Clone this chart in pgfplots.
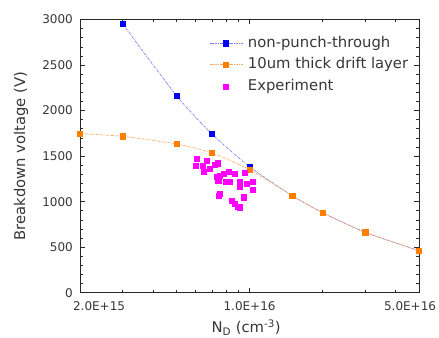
\documentclass[border=0pt]{standalone}
\usepackage{fontspec}
\setmainfont{DejaVu Sans}
\usepackage{pgfplots}
\usepackage{pgfplotstable}
\pgfplotsset{compat=1.18}

\definecolor{npt}{RGB}{0,0,240}
\definecolor{nptline}{RGB}{125,125,250}
\definecolor{drift}{RGB}{255,128,0}
\definecolor{driftline}{RGB}{255,170,100}
\definecolor{expt}{RGB}{255,0,255}
\definecolor{txt}{RGB}{55,55,55}
\definecolor{frame}{RGB}{40,40,40}

% Simulated breakdown voltage, non-punch-through design
\pgfplotstableread{
nd      vb
3e15    2950
5e15    2163
7e15    1743
1e16    1384
1.5e16  1065
2e16    879
3e16    663
5e16    461
}\nptdata

% Simulated breakdown voltage, 10 um thick drift layer
\pgfplotstableread{
nd      vb
2e15    1746
3e15    1717
5e15    1633
7e15    1534
1e16    1351
1.5e16  1065
2e16    879
3e16    663
5e16    461
}\driftdata

% Measured devices
\pgfplotstableread{
nd       vb
6.05e15  1468
6.00e15  1395
6.39e15  1395
6.45e15  1329
6.66e15  1450
6.87e15  1366
7.16e15  1402
7.37e15  1421
7.32e15  1274
7.43e15  1226
7.56e15  1285
7.85e15  1303
8.18e15  1329
8.31e15  1219
7.98e15  1219
8.71e15  1311
9.08e15  1219
9.08e15  1164
9.58e15  1318
9.73e15  1201
1.028e16 1215
1.028e16 1135
7.56e15  1091
7.48e15  1065
8.44e15  1010
8.71e15  974
8.91e15  944
9.14e15  938
9.43e15  1048
}\exptdata

\begin{document}
\begin{tikzpicture}
\path[use as bounding box] (0,0) rectangle (439bp,338bp);
\begin{axis}[
  at={(80bp,45.3bp)}, anchor=south west,
  scale only axis, width=339bp, height=273.2bp,
  xmode=log, xmin=2e15, xmax=5e16, ymin=0, ymax=3000,
  xtick={2e15,1e16,5e16},
  xticklabels={\hspace*{38bp}2.0E+15, 1.0E+16, 5.0E+16\hspace*{18bp}},
  minor xtick={3e15,4e15,5e15,6e15,7e15,8e15,9e15,2e16,3e16,4e16},
  ytick={0,500,...,3000}, minor y tick num=4,
  /pgf/number format/1000 sep={},
  /pgf/number format/assume math mode=true,
  tick align=inside,
  major tick length=5bp, minor tick length=3bp,
  axis line style={frame, line width=0.8bp},
  every tick/.style={frame, line width=0.6bp},
  tick label style={font=\fontsize{12bp}{14bp}\selectfont, text=txt},
  yticklabel style={inner sep=0pt, xshift=-7bp},
  xticklabel style={inner sep=0pt, yshift=-9bp},
  label style={font=\fontsize{14.8bp}{17bp}\selectfont, text=txt},
  ylabel={Breakdown voltage (V)},
  ylabel style={at={(axis description cs:-0.174,0.5)}, anchor=center},
  xlabel={N\textsubscript{D} (cm\textsuperscript{-3})},
  xlabel style={at={(axis description cs:0.49,-0.1475)}, anchor=base},
  legend cell align=left,
  legend style={draw=none, fill=none, at={(0.3805,0.94)}, anchor=north west,
    font=\fontsize{14.8bp}{17bp}\selectfont, text=txt,
    inner sep=0pt, column sep=5bp, row sep=7bp,
    nodes={inner sep=0pt, text height=11bp, text depth=3.5bp}},
  legend image code/.code={\draw[mark repeat=2,mark phase=2,#1]
    plot coordinates {(0bp,0bp)(16.5bp,0bp)(33bp,0bp)};},
]
\addplot[nptline, line width=0.7bp, dash pattern=on 2.5bp off 1bp on 0.7bp off 1bp,
  smooth, tension=0.4,
  mark=square*, mark size=2.6bp, mark options={solid, fill=npt, draw=npt}]
  table[x=nd, y=vb] {\nptdata};
\addlegendentry{non-punch-through}
\addplot[driftline, line width=0.7bp, dash pattern=on 2.5bp off 1bp on 0.7bp off 1bp,
  smooth, tension=0.4,
  mark=square*, mark size=2.6bp, mark options={solid, fill=drift, draw=drift}]
  table[x=nd, y=vb] {\driftdata};
\addlegendentry{10um thick drift layer}
\addplot[only marks, mark=square*, mark size=2.6bp,
  mark options={fill=expt, draw=expt}]
  table[x=nd, y=vb] {\exptdata};
\addlegendentry{Experiment}
\end{axis}
\end{tikzpicture}
\end{document}
